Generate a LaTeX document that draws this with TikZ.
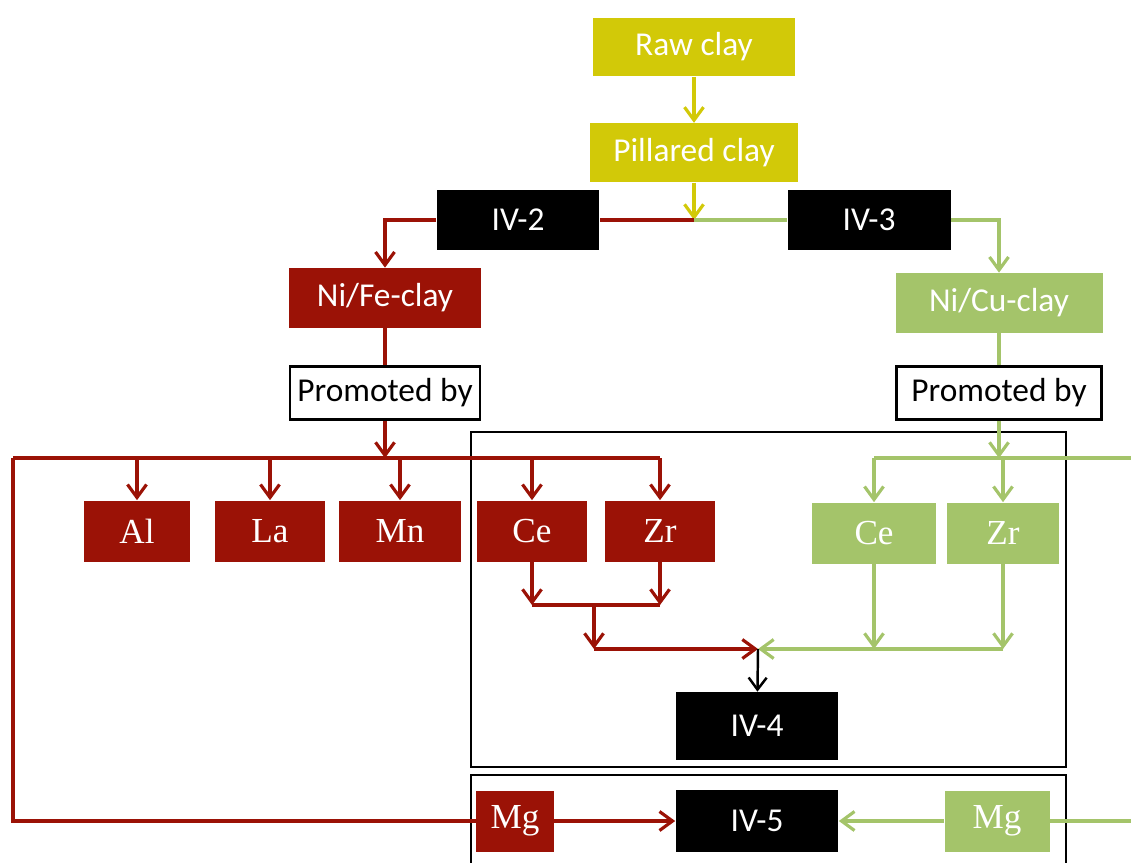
\documentclass[tikz,border=0pt]{standalone}
\usepackage{fontspec}
\setmainfont{Liberation Serif}
\setsansfont{Carlito}
\usepackage{tikz}
\usetikzlibrary{arrows.meta, positioning}

\definecolor{clayyellow}{RGB}{210,201,8}
\definecolor{fered}{RGB}{155,18,6}
\definecolor{cugreen}{RGB}{164,196,106}

\tikzset{
  claybox/.style={
    rectangle, fill=clayyellow, text=white, align=center,
    font=\sffamily\fontsize{19}{22}\selectfont,
    minimum width=4.1cm, minimum height=1.18cm
  },
  stagebox/.style={
    rectangle, fill=black, text=white, align=center,
    font=\sffamily\fontsize{19}{22}\selectfont,
    minimum width=3.26cm, minimum height=1.2cm
  },
  catbox/.style={
    rectangle, text=white, align=center,
    font=\sffamily\fontsize{19}{22}\selectfont,
    minimum height=1.2cm
  },
  promobox/.style={
    rectangle, draw, line width=1.4pt, fill=white, align=center,
    font=\sffamily\fontsize{19}{22}\selectfont,
    minimum width=3.8cm, minimum height=1.06cm
  },
  elembox/.style={
    rectangle, text=white, align=center,
    font=\fontsize{20}{23}\selectfont,
    minimum width=2.2cm, minimum height=1.22cm
  },
  frame/.style={draw, line width=1.6pt},
  flowline/.style={line width=1.8pt},
  flowarrow/.style={-{Straight Barb[length=2.6mm, width=3.8mm]}, line width=1.8pt},
}

\begin{document}
\begin{tikzpicture}[x=0.02cm, y=-0.02cm]
  \useasboundingbox (0,0) rectangle (1131,862);

  % ── Frames ──
  \draw[frame] (471,432) rectangle (1066,767);
  \draw[frame] (471,775) rectangle (1066,880);

  % ── Clay preparation ──
  \node[claybox, minimum width=4.04cm] (raw) at (694,47) {Raw clay};
  \node[claybox, minimum width=4.16cm, below=0.92cm of raw] (pillared) {Pillared clay};

  \node[stagebox] (ivtwo) at (518,220) {IV-2};
  \node[stagebox] (ivthree) at (869,220) {IV-3};
  \coordinate (split) at (694,220);

  \draw[flowarrow, clayyellow] (raw) -- (pillared);
  \draw[flowarrow, clayyellow] (pillared) -- (split);
  \draw[flowline, fered] (split) -- (ivtwo);
  \draw[flowline, cugreen] (split) -- (ivthree);

  % ── Ni/Fe branch ──
  \node[catbox, fill=fered, minimum width=3.84cm] (nife) at (385,298) {Ni/Fe-clay};
  \node[promobox, below=0.74cm of nife] (promofe) {Promoted by};
  \draw[flowarrow, fered] (ivtwo.west) -| (nife.north);
  \draw[flowline, fered] (nife) -- (promofe);

  \coordinate (redrow) at (0,458);
  \coordinate (redleft) at (13,458);
  \node[elembox, fill=fered, minimum width=2.14cm] (fal) at (137,531) {Al};
  \node[elembox, fill=fered] (fla) at (270,531) {La};
  \node[elembox, fill=fered, minimum width=2.46cm] (fmn) at (400,531) {Mn};
  \node[elembox, fill=fered] (fce) at (532,531) {Ce};
  \node[elembox, fill=fered] (fzr) at (660,531) {Zr};

  \draw[flowarrow, fered] (promofe) -- (promofe.south |- redrow);
  \draw[flowline, fered] (redleft) -- (fzr |- redrow);
  \foreach \el in {fal, fla, fmn, fce, fzr}
    \draw[flowarrow, fered] (\el |- redrow) -- (\el);

  % ── Ni/Cu branch ──
  \node[catbox, fill=cugreen, minimum width=4.14cm] (nicu) at (999,303) {Ni/Cu-clay};
  \node[promobox, minimum width=4.1cm, below=0.64cm of nicu] (promocu) {Promoted by};
  \draw[flowarrow, cugreen] (ivthree.east) -| (nicu.north);
  \draw[flowline, cugreen] (nicu) -- (promocu);

  \coordinate (greenrow) at (0,458);
  \coordinate (greenright) at (1131,458);
  \node[elembox, fill=cugreen, minimum width=2.48cm] (cce) at (874,533) {Ce};
  \node[elembox, fill=cugreen, minimum width=2.24cm] (czr) at (1003,533) {Zr};

  \draw[flowarrow, cugreen] (promocu) -- (promocu.south |- greenrow);
  \draw[flowline, cugreen] (cce |- greenrow) -- (greenright);
  \foreach \el in {cce, czr}
    \draw[flowarrow, cugreen] (\el |- greenrow) -- (\el);

  % ── Ce/Zr merge into IV-4 ──
  \coordinate (femerge) at (594,605);
  \coordinate (join) at (758,649);
  \node[stagebox, minimum height=1.36cm] (ivfour) at (757,726) {IV-4};

  \draw[flowarrow, fered] (fce) -- (fce |- femerge);
  \draw[flowarrow, fered] (fzr) -- (fzr |- femerge);
  \draw[flowline, fered] (fce |- femerge) -- (fzr |- femerge);
  \draw[flowarrow, fered] (femerge) -- (femerge |- join);
  \draw[flowarrow, fered] (femerge |- join) -- (join);

  \draw[flowarrow, cugreen] (cce) -- (cce |- join);
  \draw[flowarrow, cugreen] (czr) -- (czr |- join);
  \draw[flowarrow, cugreen] (czr |- join) -- (join);
  \draw[-{Straight Barb[length=2.4mm, width=3.6mm]}, line width=1.4pt] (join) -- (ivfour);

  % ── Mg into IV-5 ──
  \node[elembox, fill=fered, minimum width=1.56cm] (fmg) at (515,821) {Mg};
  \node[stagebox, minimum height=1.24cm] (ivfive) at (757,821) {IV-5};
  \node[elembox, fill=cugreen, minimum width=2.1cm] (cmg) at (997,821) {Mg};

  \draw[flowline, fered] (redleft) |- (fmg);
  \draw[flowarrow, fered] (fmg) -- (ivfive);
  \draw[flowarrow, cugreen] (cmg) -- (ivfive);
  \draw[flowline, cugreen] (cmg) -- (cmg -| greenright);
\end{tikzpicture}
\end{document}
